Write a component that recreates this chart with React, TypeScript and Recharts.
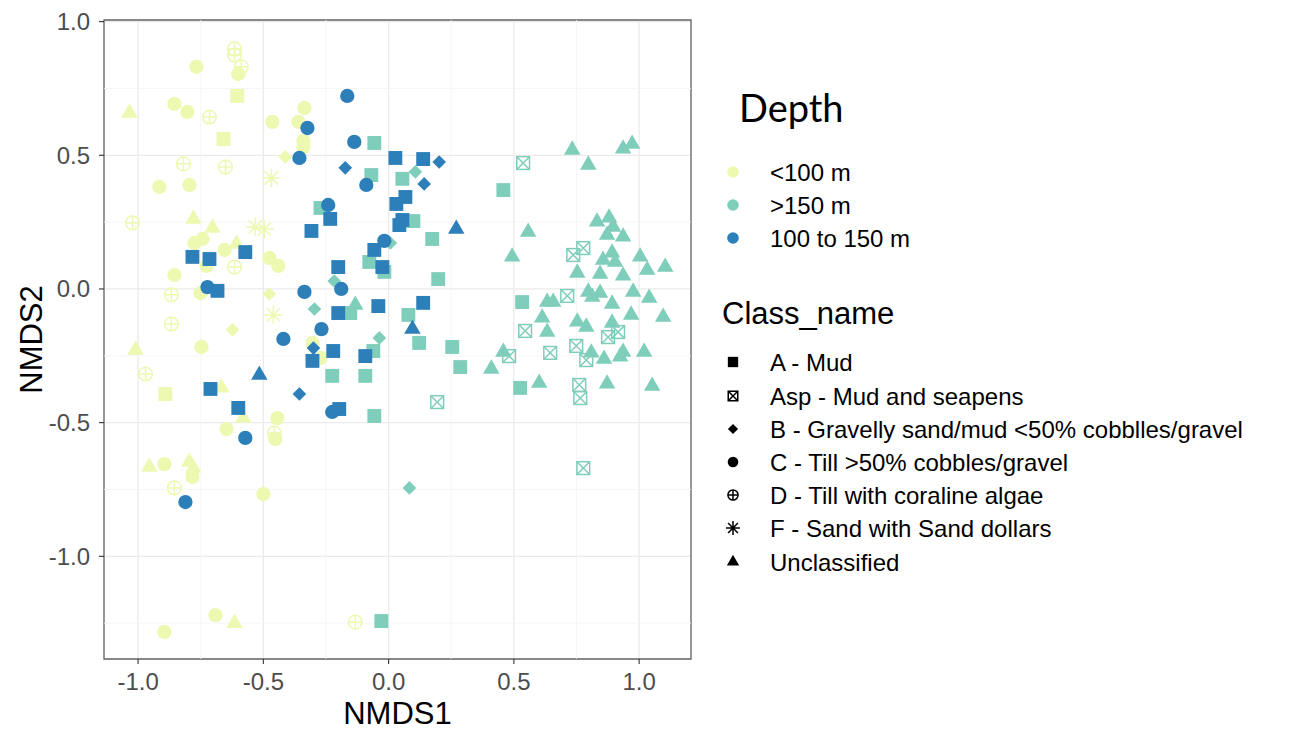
import { ScatterChart, Scatter, XAxis, YAxis, CartesianGrid, ReferenceLine, ReferenceArea } from 'recharts'

type Pt = { x: number; y: number; cls: string }

const FONT = '"Liberation Sans", Arial, sans-serif'

const depthLabels = ['<100 m', '>150 m', '100 to 150 m']
const depthColors = ['#edf8b1', '#7fcdbb', '#2c7fb8']

const classCodes = ['A', 'Asp', 'B', 'C', 'D', 'F', 'U']
const classLabels = [
  'A - Mud',
  'Asp - Mud and seapens',
  'B - Gravelly sand/mud <50% cobblles/gravel',
  'C - Till >50% cobbles/gravel',
  'D - Till with coraline algae',
  'F - Sand with Sand dollars',
  'Unclassified',
]

const majorTicks = [-1, -0.5, 0, 0.5, 1]
const minorX = [-0.75, -0.25, 0.25, 0.75]
const minorY = [-1.25, -0.75, -0.25, 0.25, 0.75]
const xDomain = [-1.136, 1.207]
const yDomain = [-1.384, 1.006]

// <100 m
const shallow: Pt[] = [
  { x: -1.034, y: 0.658, cls: 'U' }, { x: -0.767, y: 0.831, cls: 'C' }, { x: -0.615, y: 0.898, cls: 'D' },
  { x: -0.615, y: 0.875, cls: 'D' }, { x: -0.588, y: 0.831, cls: 'D' }, { x: -0.6, y: 0.804, cls: 'C' },
  { x: -0.604, y: 0.722, cls: 'A' }, { x: -0.855, y: 0.692, cls: 'C' }, { x: -0.803, y: 0.662, cls: 'C' },
  { x: -0.715, y: 0.643, cls: 'D' }, { x: -0.464, y: 0.625, cls: 'C' }, { x: -0.336, y: 0.677, cls: 'C' },
  { x: -0.36, y: 0.625, cls: 'C' }, { x: -0.34, y: 0.554, cls: 'C' }, { x: -0.34, y: 0.531, cls: 'C' },
  { x: -0.412, y: 0.494, cls: 'B' }, { x: -0.659, y: 0.561, cls: 'A' }, { x: -0.819, y: 0.468, cls: 'D' },
  { x: -0.651, y: 0.456, cls: 'D' }, { x: -0.468, y: 0.415, cls: 'F' }, { x: -0.915, y: 0.382, cls: 'C' },
  { x: -0.795, y: 0.389, cls: 'C' }, { x: -1.022, y: 0.247, cls: 'D' }, { x: -0.779, y: 0.262, cls: 'U' },
  { x: -0.703, y: 0.228, cls: 'U' }, { x: -0.532, y: 0.232, cls: 'F' }, { x: -0.496, y: 0.224, cls: 'F' },
  { x: -0.775, y: 0.172, cls: 'C' }, { x: -0.743, y: 0.187, cls: 'C' }, { x: -0.655, y: 0.146, cls: 'C' },
  { x: -0.607, y: 0.168, cls: 'U' }, { x: -0.727, y: 0.086, cls: 'C' }, { x: -0.615, y: 0.082, cls: 'D' },
  { x: -0.476, y: 0.116, cls: 'C' }, { x: -0.44, y: 0.086, cls: 'C' }, { x: -0.855, y: 0.052, cls: 'C' },
  { x: -0.867, y: -0.022, cls: 'D' }, { x: -0.751, y: -0.015, cls: 'C' }, { x: -0.476, y: -0.019, cls: 'B' },
  { x: -0.46, y: -0.097, cls: 'F' }, { x: -0.867, y: -0.131, cls: 'D' }, { x: -0.623, y: -0.153, cls: 'B' },
  { x: -1.01, y: -0.228, cls: 'U' }, { x: -0.747, y: -0.217, cls: 'C' }, { x: -0.97, y: -0.318, cls: 'D' },
  { x: -0.891, y: -0.393, cls: 'A' }, { x: -0.667, y: -0.37, cls: 'U' }, { x: -0.58, y: -0.483, cls: 'U' },
  { x: -0.444, y: -0.483, cls: 'C' }, { x: -0.647, y: -0.524, cls: 'C' }, { x: -0.456, y: -0.539, cls: 'D' },
  { x: -0.452, y: -0.561, cls: 'C' }, { x: -0.955, y: -0.666, cls: 'U' }, { x: -0.895, y: -0.655, cls: 'C' },
  { x: -0.795, y: -0.647, cls: 'U' }, { x: -0.779, y: -0.67, cls: 'U' }, { x: -0.783, y: -0.703, cls: 'C' },
  { x: -0.855, y: -0.744, cls: 'D' }, { x: -0.5, y: -0.767, cls: 'C' }, { x: -0.691, y: -1.22, cls: 'C' },
  { x: -0.895, y: -1.283, cls: 'C' }, { x: -0.615, y: -1.25, cls: 'U' }, { x: -0.133, y: -1.246, cls: 'D' },
  { x: -0.304, y: -0.202, cls: 'C' }, { x: -0.272, y: -0.258, cls: 'C' },
]

// >150 m
const deep: Pt[] = [
  { x: -0.057, y: 0.546, cls: 'A' }, { x: -0.069, y: 0.426, cls: 'A' }, { x: 0.107, y: 0.438, cls: 'B' },
  { x: 0.055, y: 0.412, cls: 'A' }, { x: -0.272, y: 0.303, cls: 'A' }, { x: 0.099, y: 0.254, cls: 'A' },
  { x: 0.174, y: 0.187, cls: 'A' }, { x: 0.007, y: 0.172, cls: 'B' }, { x: -0.077, y: 0.101, cls: 'A' },
  { x: -0.017, y: 0.064, cls: 'A' }, { x: 0.198, y: 0.037, cls: 'A' }, { x: -0.217, y: 0.03, cls: 'B' },
  { x: -0.296, y: -0.075, cls: 'B' }, { x: -0.153, y: -0.09, cls: 'A' }, { x: -0.133, y: -0.06, cls: 'U' },
  { x: 0.079, y: -0.097, cls: 'A' }, { x: -0.037, y: -0.183, cls: 'B' }, { x: -0.061, y: -0.232, cls: 'A' },
  { x: 0.122, y: -0.202, cls: 'A' }, { x: 0.254, y: -0.217, cls: 'A' }, { x: 0.286, y: -0.292, cls: 'A' },
  { x: -0.225, y: -0.325, cls: 'A' }, { x: -0.093, y: -0.325, cls: 'A' }, { x: 0.194, y: -0.423, cls: 'Asp' },
  { x: -0.057, y: -0.475, cls: 'A' }, { x: 0.083, y: -0.744, cls: 'B' }, { x: -0.029, y: -1.242, cls: 'A' },
  { x: 0.733, y: 0.52, cls: 'U' }, { x: 0.936, y: 0.524, cls: 'U' }, { x: 0.972, y: 0.542, cls: 'U' },
  { x: 0.797, y: 0.464, cls: 'U' }, { x: 0.537, y: 0.471, cls: 'Asp' }, { x: 0.458, y: 0.37, cls: 'A' },
  { x: 0.557, y: 0.213, cls: 'U' }, { x: 0.832, y: 0.251, cls: 'U' }, { x: 0.88, y: 0.266, cls: 'U' },
  { x: 0.896, y: 0.232, cls: 'U' }, { x: 0.872, y: 0.202, cls: 'U' }, { x: 0.936, y: 0.195, cls: 'U' },
  { x: 0.777, y: 0.153, cls: 'Asp' }, { x: 0.737, y: 0.127, cls: 'Asp' }, { x: 0.493, y: 0.12, cls: 'U' },
  { x: 0.892, y: 0.135, cls: 'U' }, { x: 0.856, y: 0.108, cls: 'U' }, { x: 0.904, y: 0.101, cls: 'U' },
  { x: 1.004, y: 0.12, cls: 'U' }, { x: 1.104, y: 0.082, cls: 'U' }, { x: 1.032, y: 0.071, cls: 'U' },
  { x: 0.753, y: 0.06, cls: 'U' }, { x: 0.844, y: 0.056, cls: 'U' }, { x: 0.936, y: 0.049, cls: 'U' },
  { x: 0.533, y: -0.049, cls: 'A' }, { x: 0.633, y: -0.049, cls: 'U' }, { x: 0.657, y: -0.049, cls: 'U' },
  { x: 0.713, y: -0.026, cls: 'Asp' }, { x: 0.797, y: -0.011, cls: 'U' }, { x: 0.813, y: -0.03, cls: 'U' },
  { x: 0.844, y: -0.015, cls: 'U' }, { x: 0.976, y: -0.011, cls: 'U' }, { x: 1.04, y: -0.034, cls: 'U' },
  { x: 0.892, y: -0.056, cls: 'U' }, { x: 0.613, y: -0.108, cls: 'U' }, { x: 0.968, y: -0.097, cls: 'U' },
  { x: 1.096, y: -0.105, cls: 'U' }, { x: 0.545, y: -0.157, cls: 'Asp' }, { x: 0.633, y: -0.161, cls: 'U' },
  { x: 0.753, y: -0.123, cls: 'U' }, { x: 0.789, y: -0.142, cls: 'U' }, { x: 0.892, y: -0.127, cls: 'U' },
  { x: 0.876, y: -0.18, cls: 'Asp' }, { x: 0.916, y: -0.161, cls: 'Asp' }, { x: 0.458, y: -0.236, cls: 'U' },
  { x: 0.481, y: -0.251, cls: 'Asp' }, { x: 0.645, y: -0.239, cls: 'Asp' }, { x: 0.749, y: -0.213, cls: 'Asp' },
  { x: 0.809, y: -0.239, cls: 'U' }, { x: 0.789, y: -0.266, cls: 'Asp' }, { x: 0.86, y: -0.262, cls: 'U' },
  { x: 0.924, y: -0.254, cls: 'U' }, { x: 0.936, y: -0.236, cls: 'U' }, { x: 1.02, y: -0.236, cls: 'U' },
  { x: 0.41, y: -0.299, cls: 'U' }, { x: 0.525, y: -0.37, cls: 'A' }, { x: 0.601, y: -0.352, cls: 'U' },
  { x: 0.761, y: -0.359, cls: 'Asp' }, { x: 0.765, y: -0.408, cls: 'Asp' }, { x: 0.872, y: -0.355, cls: 'U' },
  { x: 1.052, y: -0.363, cls: 'U' }, { x: 0.777, y: -0.67, cls: 'Asp' },
]

// 100 to 150 m
const mid: Pt[] = [
  { x: -0.165, y: 0.722, cls: 'C' }, { x: -0.324, y: 0.602, cls: 'C' }, { x: -0.137, y: 0.55, cls: 'C' },
  { x: -0.356, y: 0.49, cls: 'C' }, { x: 0.027, y: 0.49, cls: 'A' }, { x: 0.138, y: 0.486, cls: 'A' },
  { x: 0.202, y: 0.475, cls: 'B' }, { x: -0.173, y: 0.453, cls: 'B' }, { x: 0.142, y: 0.393, cls: 'B' },
  { x: -0.089, y: 0.389, cls: 'C' }, { x: 0.067, y: 0.344, cls: 'A' }, { x: 0.031, y: 0.318, cls: 'A' },
  { x: -0.241, y: 0.314, cls: 'C' }, { x: -0.233, y: 0.262, cls: 'A' }, { x: -0.308, y: 0.217, cls: 'A' },
  { x: 0.055, y: 0.258, cls: 'A' }, { x: 0.043, y: 0.239, cls: 'A' }, { x: 0.27, y: 0.224, cls: 'U' },
  { x: -0.017, y: 0.18, cls: 'C' }, { x: -0.057, y: 0.146, cls: 'A' }, { x: -0.025, y: 0.082, cls: 'A' },
  { x: -0.201, y: 0.082, cls: 'A' }, { x: -0.189, y: 0.0, cls: 'C' }, { x: -0.336, y: -0.011, cls: 'C' },
  { x: -0.201, y: -0.09, cls: 'A' }, { x: -0.041, y: -0.064, cls: 'A' }, { x: 0.138, y: -0.052, cls: 'A' },
  { x: -0.268, y: -0.15, cls: 'C' }, { x: -0.42, y: -0.187, cls: 'C' }, { x: -0.3, y: -0.221, cls: 'B' },
  { x: -0.304, y: -0.269, cls: 'A' }, { x: -0.221, y: -0.232, cls: 'A' }, { x: -0.093, y: -0.251, cls: 'A' },
  { x: 0.095, y: -0.15, cls: 'U' }, { x: -0.356, y: -0.393, cls: 'B' }, { x: -0.225, y: -0.46, cls: 'C' },
  { x: -0.197, y: -0.449, cls: 'A' }, { x: -0.723, y: 0.007, cls: 'C' }, { x: -0.683, y: -0.007, cls: 'A' },
  { x: -0.572, y: 0.138, cls: 'A' }, { x: -0.783, y: 0.12, cls: 'A' }, { x: -0.715, y: 0.112, cls: 'A' },
  { x: -0.516, y: -0.322, cls: 'U' }, { x: -0.711, y: -0.374, cls: 'A' }, { x: -0.6, y: -0.445, cls: 'A' },
  { x: -0.572, y: -0.557, cls: 'C' }, { x: -0.811, y: -0.797, cls: 'C' },
]

function Marker({ cx, cy, cls, color, k = 1.1 }: { cx: number; cy: number; cls: string; color: string; k?: number }) {
  switch (cls) {
    case 'A': {
      const h = 6.3 * k
      return <rect x={cx - h} y={cy - h} width={2 * h} height={2 * h} fill={color} />
    }
    case 'Asp': {
      const h = 5.8 * k
      return (
        <g fill="none" stroke={color} strokeWidth={1.5}>
          <rect x={cx - h} y={cy - h} width={2 * h} height={2 * h} />
          <path d={`M${cx - h},${cy - h}L${cx + h},${cy + h}M${cx + h},${cy - h}L${cx - h},${cy + h}`} />
        </g>
      )
    }
    case 'B': {
      const h = 6.2 * k
      return <path d={`M${cx},${cy - h}L${cx + h},${cy}L${cx},${cy + h}L${cx - h},${cy}Z`} fill={color} />
    }
    case 'C':
      return <circle cx={cx} cy={cy} r={6.5 * k} fill={color} />
    case 'D': {
      const r = 6.2 * k
      return (
        <g fill="none" stroke={color} strokeWidth={1.5}>
          <circle cx={cx} cy={cy} r={r} />
          <path d={`M${cx - r},${cy}L${cx + r},${cy}M${cx},${cy - r}L${cx},${cy + r}`} />
        </g>
      )
    }
    case 'F': {
      const r = 8.5 * k
      const d = r * 0.7071
      return (
        <path
          d={`M${cx - r},${cy}L${cx + r},${cy}M${cx},${cy - r}L${cx},${cy + r}M${cx - d},${cy - d}L${cx + d},${cy + d}M${cx + d},${cy - d}L${cx - d},${cy + d}`}
          stroke={color}
          strokeWidth={1.5}
        />
      )
    }
    default: {
      const w = 7.5 * k
      return (
        <path d={`M${cx},${cy - 8.7 * k}L${cx + w},${cy + 4.3 * k}L${cx - w},${cy + 4.3 * k}Z`} fill={color} />
      )
    }
  }
}

const groups = [shallow, deep, mid]

function LegendBox() {
  const depthY = [172, 205, 238]
  const classY = [362, 396, 429, 462, 495, 528, 562]
  return (
    <svg width={1293} height={730} style={{ position: 'absolute', left: 0, top: 0, pointerEvents: 'none' }}>
      <text x={739} y={122} fontSize={38} fontFamily='Lato, "Open Sans", sans-serif' fill="#000">
        Depth
      </text>
      {depthLabels.map((l, i) => (
        <g key={l}>
          <circle cx={733} cy={depthY[i]} r={5.8} fill={depthColors[i]} />
          <text x={770} y={depthY[i] + 8.5} fontSize={24} fontFamily={FONT} fill="#000">
            {l}
          </text>
        </g>
      ))}
      <text x={722} y={324} fontSize={31} fontFamily={FONT} fill="#000">
        Class_name
      </text>
      {classLabels.map((l, i) => (
        <g key={l}>
          <Marker cx={733} cy={classY[i]} cls={classCodes[i]} color="#000" k={0.82} />
          <text x={770} y={classY[i] + 8.5} fontSize={24} fontFamily={FONT} fill="#000">
            {l}
          </text>
        </g>
      ))}
    </svg>
  )
}

export default function App() {
  return (
    <div style={{ position: 'absolute', left: 0, top: 0, width: 1293, height: 730, background: '#fff' }}>
      <ScatterChart width={1293} height={730} margin={{ top: 20, right: 602, bottom: 0, left: 0 }}>
        <CartesianGrid stroke="#ebebeb" strokeWidth={1.3} />
        {minorX.map((v) => (
          <ReferenceLine key={`mx${v}`} x={v} stroke="#f4f4f4" strokeWidth={0.8} />
        ))}
        {minorY.map((v) => (
          <ReferenceLine key={`my${v}`} y={v} stroke="#f4f4f4" strokeWidth={0.8} />
        ))}
        <XAxis
          type="number"
          dataKey="x"
          domain={xDomain}
          allowDataOverflow
          ticks={majorTicks}
          tickFormatter={(v: number) => v.toFixed(1)}
          height={71}
          axisLine={false}
          tickSize={5}
          tickMargin={9}
          tickLine={{ stroke: '#333', strokeWidth: 1.1 }}
          tick={{ fontSize: 24, fill: '#4d4d4d', fontFamily: FONT }}
          label={{ value: 'NMDS1', position: 'insideBottom', offset: 6, fontSize: 31, fill: '#000', fontFamily: FONT }}
        />
        <YAxis
          type="number"
          dataKey="y"
          domain={yDomain}
          allowDataOverflow
          ticks={majorTicks}
          tickFormatter={(v: number) => v.toFixed(1)}
          width={104}
          axisLine={false}
          tickSize={5}
          tickMargin={9}
          tickLine={{ stroke: '#333', strokeWidth: 1.1 }}
          tick={{ fontSize: 24, fill: '#4d4d4d', fontFamily: FONT }}
          label={{
            content: ({ viewBox }: any) => {
              const cy = viewBox.y + viewBox.height / 2
              return (
                <text x={42} y={cy} transform={`rotate(-90, 42, ${cy})`} textAnchor="middle" fontSize={31} fontFamily={FONT} fill="#000">
                  NMDS2
                </text>
              )
            },
          }}
        />
        {groups.map((g, i) => (
          <Scatter
            key={depthLabels[i]}
            name={depthLabels[i]}
            data={g}
            isAnimationActive={false}
            shape={(p: any) => <Marker cx={p.cx} cy={p.cy} cls={p.payload.cls} color={depthColors[i]} />}
          />
        ))}
        <ReferenceArea
          x1={xDomain[0]}
          x2={xDomain[1]}
          y1={yDomain[0]}
          y2={yDomain[1]}
          fill="none"
          fillOpacity={0}
          stroke="#666"
          strokeWidth={1.3}
          ifOverflow="visible"
        />
      </ScatterChart>
      <LegendBox />
    </div>
  )
}
